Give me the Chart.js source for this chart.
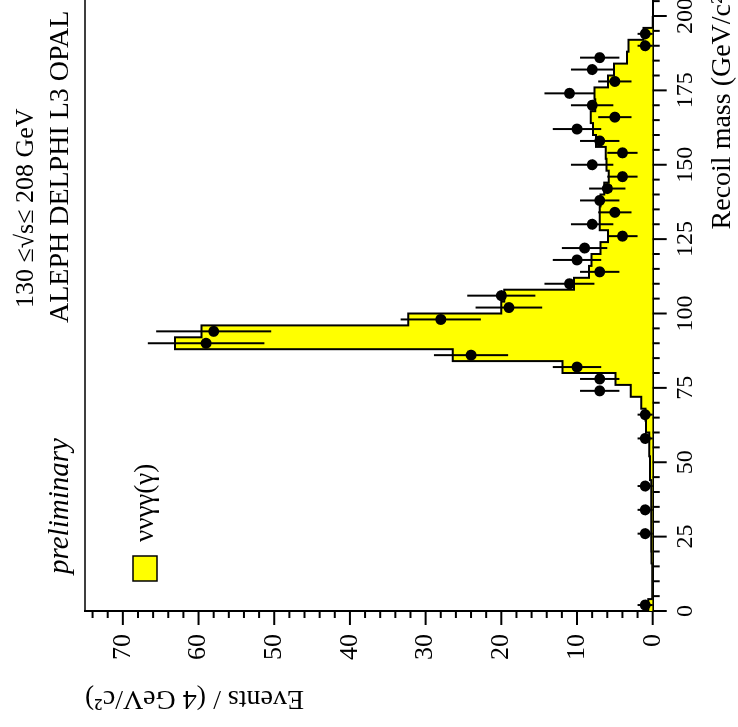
<!DOCTYPE html>
<html>
<head>
<meta charset="utf-8">
<script src="https://cdn.jsdelivr.net/npm/chart.js@4.4.0/dist/chart.umd.min.js"></script>
<style>
  html, body { margin: 0; padding: 0; background: #fff; overflow: hidden; width: 738px; height: 727px; }
  /* the plot is laid out landscape and turned a quarter turn */
  #wrap { position: absolute; left: 0; top: 727px; width: 760px; height: 738px;
          transform-origin: 0 0; transform: rotate(-90deg); }
</style>
</head>
<body>
<div id="wrap"><canvas id="recoil" width="760" height="738"></canvas></div>
<script>
// Recoil mass bins, 4 GeV/c^2 wide (lower edges, last entry closes the histogram)
const binEdges = [0, 4, 8, 12, 16, 20, 24, 28, 32, 36, 40, 44, 48, 52, 56, 60, 64, 68, 72, 76,
  80, 84, 88, 92, 96, 100, 104, 108, 112, 116, 120, 124, 128, 132, 136, 140, 144, 148, 152, 156,
  160, 164, 168, 172, 176, 180, 184, 188, 192, 196, 200];

// expected nu nu gamma gamma (gamma) per bin
const mcEvents = [0.6, 0.05, 0.05, 0.05, 0.15, 0.2, 0.2, 0.2, 0.2, 0.2, 0.2, 0.35, 0.35, 0.45, 0.45, 0.9, 0.95, 1.5, 2.9, 4.9,
  11.9, 26.4, 63.1, 59.6, 32.3, 20.0, 19.6, 10.4, 8.4, 8.1, 6.9, 5.9, 7.0, 7.0, 6.9, 6.4, 5.8, 6.1, 6.2, 7.5,
  7.9, 8.2, 7.6, 7.7, 5.9, 5.1, 3.4, 3.2, 1.2, 0];

// selected events (bin centres), with their errors
const dataMass = [2, 26, 34, 42, 58, 66, 74, 78, 82, 86, 90, 94, 98, 102, 106, 110, 114, 118, 122,
  126, 130, 134, 138, 142, 146, 150, 154, 158, 162, 166, 170, 174, 178, 182, 186, 190, 194];
const dataEvents = [1, 1, 1, 1, 1, 1, 7, 7, 10, 24, 59, 58, 28, 19, 20, 11, 7, 10, 9,
  4, 8, 5, 7, 6, 4, 8, 4, 7, 10, 5, 8, 11, 5, 8, 7, 1, 1];
const dataErrors = [1, 1, 1, 1, 1, 1, 2.6, 2.6, 3.2, 4.9, 7.7, 7.6, 5.3, 4.4, 4.5, 3.3, 2.6, 3.2, 3,
  2, 2.8, 2.2, 2.6, 2.4, 2, 2.8, 2, 2.6, 3.2, 2.2, 2.8, 3.3, 2.2, 2.8, 2.6, 1, 1];

const massTicks = [0, 25, 50, 75, 100, 125, 150, 175, 200];
const eventTicks = [0, 10, 20, 30, 40, 50, 60, 70];

const SERIF = '"Liberation Serif", "Times New Roman", serif';

Chart.defaults.font.family = SERIF;
Chart.defaults.color = '#000';

const mcPoints = mcEvents.map((v, i) => ({x: binEdges[i], y: v}));
mcPoints.push({x: binEdges[binEdges.length - 1], y: 0});
const dataPoints = dataMass.map((m, i) => ({x: m, y: dataEvents[i]}));

// vertical error bars on the data
const errorBars = {
  id: 'errorBars',
  afterDatasetsDraw(chart) {
    const {ctx, scales: {x, y}} = chart;
    ctx.save();
    ctx.strokeStyle = '#000';
    ctx.lineWidth = 2;
    dataMass.forEach((m, i) => {
      const px = x.getPixelForValue(m);
      ctx.beginPath();
      ctx.moveTo(px, y.getPixelForValue(dataEvents[i] - dataErrors[i]));
      ctx.lineTo(px, y.getPixelForValue(dataEvents[i] + dataErrors[i]));
      ctx.stroke();
    });
    ctx.restore();
  }
};

// frame, major/minor ticks, legend and labels
const decorations = {
  id: 'decorations',
  afterDraw(chart) {
    const {ctx, chartArea: a, scales: {x, y}} = chart;
    ctx.save();
    ctx.strokeStyle = '#000';

    ctx.lineWidth = 1.5;
    ctx.beginPath();
    ctx.moveTo(a.left, a.top);
    ctx.lineTo(a.right, a.top);
    ctx.lineTo(a.right, a.bottom);
    ctx.stroke();

    ctx.lineWidth = 2;
    for (let m = 0; m <= x.max; m += 5) {
      const px = x.getPixelForValue(m);
      const len = m % 25 === 0 ? 14 : 7;
      ctx.beginPath();
      ctx.moveTo(px, a.bottom);
      ctx.lineTo(px, a.bottom + len);
      ctx.stroke();
    }
    for (let e = 0; e <= y.max; e += 2) {
      const py = y.getPixelForValue(e);
      const len = e % 10 === 0 ? 14 : 7;
      ctx.beginPath();
      ctx.moveTo(a.left, py);
      ctx.lineTo(a.left - len, py);
      ctx.stroke();
    }

    // legend
    ctx.fillStyle = '#ffff00';
    ctx.fillRect(a.left + 30, a.top + 48, 25, 24);
    ctx.lineWidth = 1.5;
    ctx.strokeRect(a.left + 30, a.top + 48, 25, 24);
    ctx.fillStyle = '#000';
    ctx.textBaseline = 'alphabetic';
    ctx.font = '27px ' + SERIF;
    ctx.fillText('ννγγ(γ)', a.left + 69, a.top + 68);

    ctx.font = 'italic 29px ' + SERIF;
    ctx.fillText('preliminary', a.left + 37, a.top - 17);

    ctx.font = '26px ' + SERIF;
    ctx.fillText('130 ≤√s≤ 208 GeV', 419, 33);
    ctx.font = '28px ' + SERIF;
    ctx.fillText('ALEPH DELPHI L3 OPAL', 404, 68);
    ctx.restore();
  }
};

new Chart(document.getElementById('recoil'), {
  type: 'scatter',
  data: {
    datasets: [
      {
        label: 'data',
        data: dataPoints,
        showLine: false,
        pointRadius: 5.5,
        pointBackgroundColor: '#000',
        pointBorderColor: '#000',
        pointBorderWidth: 0
      },
      {
        type: 'line',
        label: 'ννγγ(γ)',
        data: mcPoints,
        stepped: 'before',
        borderColor: '#000',
        borderWidth: 2,
        backgroundColor: '#ffff00',
        fill: 'origin',
        pointRadius: 0
      }
    ]
  },
  options: {
    responsive: false,
    animation: false,
    devicePixelRatio: 1,
    layout: { padding: { left: 0, right: 19.25, top: 85, bottom: 0 } },
    plugins: { legend: { display: false }, tooltip: { enabled: false } },
    scales: {
      x: {
        type: 'linear',
        min: 0,
        max: 210,
        afterBuildTicks: s => { s.ticks = massTicks.map(v => ({value: v})); },
        afterFit: s => { s.height = 85.3; },
        grid: { display: false, drawTicks: false },
        border: { display: true, color: '#000', width: 2 },
        ticks: { color: '#000', font: { size: 24 }, padding: 19, maxRotation: 0, autoSkip: false },
        title: { display: true, text: 'Recoil mass (GeV/c²)', align: 'end', color: '#000',
                 font: { size: 28, lineHeight: 1.1 }, padding: 0 }
      },
      y: {
        min: 0,
        max: 75,
        afterBuildTicks: s => { s.ticks = eventTicks.map(v => ({value: v})); },
        afterFit: s => { s.width = 116; },
        grid: { display: false, drawTicks: false },
        border: { display: true, color: '#000', width: 2 },
        ticks: { color: '#000', font: { size: 26 }, padding: 23, autoSkip: false },
        title: { display: true, text: 'Events / (4 GeV/c²)', align: 'end', color: '#000',
                 font: { size: 28, lineHeight: 1.2 }, padding: { top: 12 } }
      }
    }
  },
  plugins: [errorBars, decorations]
});
</script>
</body>
</html>
